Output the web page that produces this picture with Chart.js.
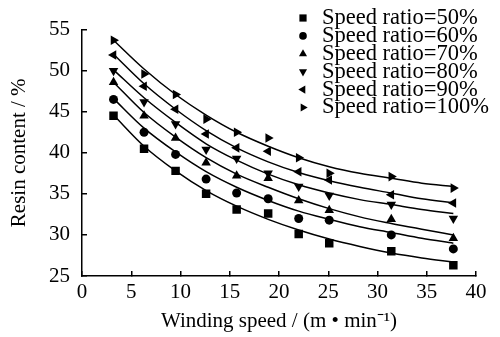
<!DOCTYPE html>
<html>
<head>
<meta charset="utf-8">
<script src="https://cdn.jsdelivr.net/npm/chart.js@4"></script>
<style>
  body { margin: 0; background: #fff; }
</style>
</head>
<body>
<canvas id="chart" width="500" height="337"></canvas>
<script>
// Winding speed of the measured samples (m/min)
const speeds = [3.2, 6.3, 9.5, 12.6, 15.7, 18.9, 22.0, 25.1, 31.4, 37.7];

// Measured resin content (%) for each speed ratio
const ratio50 = [44.5, 40.5, 37.8, 35.0, 33.1, 32.6, 30.1, 29.0, 28.0, 26.3];
const ratio60 = [46.5, 42.5, 39.8, 36.8, 35.1, 34.4, 32.0, 31.8, 30.0, 28.3];
const ratio70 = [48.6, 44.5, 41.8, 38.8, 37.2, 36.9, 34.2, 33.0, 31.9, 29.6];
const ratio80 = [50.0, 46.2, 43.5, 40.4, 39.3, 37.5, 35.9, 34.8, 33.7, 32.0];
const ratio90 = [51.9, 48.1, 45.3, 42.3, 40.6, 40.2, 37.7, 36.7, 34.9, 33.9];
const ratio100 = [53.7, 49.6, 47.1, 44.1, 42.5, 41.8, 39.4, 37.5, 37.1, 35.7];

// Fitted curves
const fitSpeeds = [3.2, 6.3, 9.5, 12.6, 15.7, 18.9, 22.0, 25.1, 28.2, 31.4, 34.5, 37.7];
const fit50 = [44.6, 40.8, 37.8, 35.4, 33.5, 31.9, 30.6, 29.5, 28.6, 27.8, 27.2, 26.7];
const fit60 = [46.6, 43.0, 40.1, 37.7, 35.8, 34.2, 32.9, 31.9, 31.0, 30.3, 29.6, 29.0];
const fit70 = [48.6, 44.9, 41.9, 39.4, 37.4, 35.8, 34.4, 33.2, 32.2, 31.4, 30.7, 30.0];
const fit80 = [50.1, 46.7, 43.7, 41.1, 39.1, 37.4, 36.1, 35.1, 34.3, 33.7, 33.1, 32.6];
const fit90 = [52.0, 48.4, 45.3, 42.7, 40.6, 38.9, 37.6, 36.6, 35.8, 35.1, 34.4, 33.9];
const fit100 = [53.7, 50.2, 47.1, 44.6, 42.5, 40.8, 39.4, 38.3, 37.5, 36.9, 36.3, 35.9];

const labels = ['Speed ratio=50%', 'Speed ratio=60%', 'Speed ratio=70%',
                'Speed ratio=80%', 'Speed ratio=90%', 'Speed ratio=100%'];
const xTicks = [0, 5, 10, 15, 20, 25, 30, 35, 40];
const yTicks = [25, 30, 35, 40, 45, 50, 55];

const measured = [ratio50, ratio60, ratio70, ratio80, ratio90, ratio100];
const fitted = [fit50, fit60, fit70, fit80, fit90, fit100];

// marker look per series: square, circle, up, down, left, right
const markers = [
    { style: 'rect', rotation: 0, radius: 6 },
    { style: 'circle', rotation: 0, radius: 4.5 },
    { style: 'triangle', rotation: 0, radius: 5.5 },
    { style: 'triangle', rotation: 180, radius: 5.5 },
    { style: 'triangle', rotation: 270, radius: 5.5 },
    { style: 'triangle', rotation: 90, radius: 5.5 }
];

const font = { family: '"Liberation Serif", "Times New Roman", serif', size: 21 };

const datasets = [];
fitted.forEach((vals, i) => {
    datasets.push({
        type: 'line',
        label: 'fit ' + labels[i],
        data: vals.map((v, j) => ({ x: fitSpeeds[j], y: v })),
        borderColor: '#000',
        borderWidth: 1.5,
        pointRadius: 0,
        fill: false,
        cubicInterpolationMode: 'monotone'
    });
});
measured.forEach((vals, i) => {
    datasets.push({
        type: 'scatter',
        label: labels[i],
        data: vals.map((v, j) => ({ x: speeds[j], y: v })),
        backgroundColor: '#000',
        borderColor: '#000',
        borderWidth: 0,
        pointStyle: markers[i].style,
        rotation: markers[i].rotation,
        pointRadius: markers[i].radius
    });
});

// Legend drawn inside the plot, top right
const speedLegend = {
    id: 'speedLegend',
    afterDraw(chart) {
        const ctx = chart.ctx;
        ctx.save();
        ctx.font = '22.5px ' + font.family;
        ctx.fillStyle = '#000';
        ctx.textBaseline = 'middle';
        labels.forEach((label, i) => {
            const y = 18 + i * 17.9;
            Chart.helpers.drawPoint(ctx, {
                pointStyle: markers[i].style,
                rotation: markers[i].rotation,
                radius: markers[i].radius * 0.85,
                borderWidth: 0
            }, 303, y);
            ctx.fillText(label, 322, y);
        });
        ctx.restore();
    }
};

new Chart(document.getElementById('chart'), {
    type: 'scatter',
    data: { datasets },
    plugins: [speedLegend],
    options: {
        responsive: false,
        animation: false,
        devicePixelRatio: 1,
        layout: { padding: { left: 0, top: 15, right: 24, bottom: 0 } },
        plugins: { legend: { display: false }, tooltip: { enabled: false } },
        scales: {
            x: {
                type: 'linear',
                min: 0,
                max: 40,
                afterBuildTicks: (scale) => { scale.ticks = xTicks.map(v => ({ value: v })); },
                afterFit: (scale) => { scale.height = 61; },
                border: { color: '#000', width: 1.5 },
                grid: { drawOnChartArea: false, color: '#000', lineWidth: 1.5, tickLength: -5 },
                ticks: { color: '#000', font, padding: 9, maxRotation: 0 },
                title: {
                    display: true,
                    text: 'Winding speed / (m • min⁻¹)',
                    color: '#000',
                    font,
                    padding: { top: 0, bottom: 3 }
                }
            },
            y: {
                type: 'linear',
                min: 25,
                max: 55,
                afterBuildTicks: (scale) => { scale.ticks = yTicks.map(v => ({ value: v })); },
                afterFit: (scale) => { scale.width = 82; },
                border: { color: '#000', width: 1.5 },
                grid: { drawOnChartArea: false, color: '#000', lineWidth: 1.5, tickLength: -5 },
                ticks: { color: '#000', font, padding: 17 },
                title: {
                    display: true,
                    text: 'Resin content / %',
                    color: '#000',
                    font,
                    padding: { top: 7, bottom: 0 }
                }
            }
        }
    }
});
</script>
</body>
</html>
